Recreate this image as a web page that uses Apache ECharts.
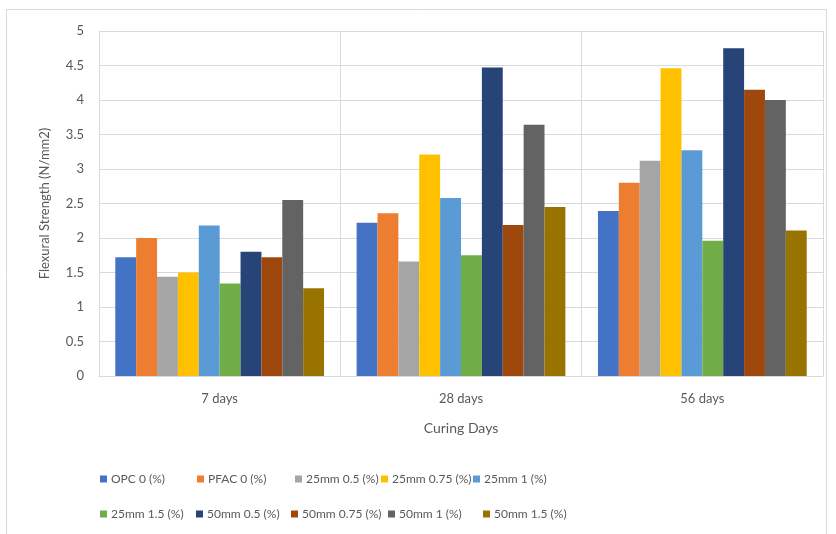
<!DOCTYPE html>
<html>
<head>
<meta charset="utf-8">
<script src="https://cdn.jsdelivr.net/npm/echarts@6/dist/echarts.min.js"></script>
<style>
  html, body { margin: 0; padding: 0; background: #fff; }
  #chart { width: 836px; height: 534px; }
</style>
</head>
<body>
<div id="chart"></div>
<script>
// Curing ages on the category axis
const categories = ['7 days', '28 days', '56 days'];

// Mix names, one series each
const seriesNames = [
  'OPC 0 (%)', 'PFAC 0 (%)', '25mm 0.5 (%)', '25mm 0.75 (%)', '25mm 1 (%)',
  '25mm 1.5 (%)', '50mm 0.5 (%)', '50mm 0.75 (%)', '50mm 1 (%)', '50mm 1.5 (%)'
];

// Flexural strength (N/mm2) at 7, 28 and 56 days
const opc0      = [1.72, 2.22, 2.39];
const pfac0     = [2.00, 2.36, 2.80];
const mm25_050  = [1.44, 1.66, 3.12];
const mm25_075  = [1.50, 3.21, 4.46];
const mm25_100  = [2.18, 2.58, 3.27];
const mm25_150  = [1.34, 1.75, 1.96];
const mm50_050  = [1.80, 4.47, 4.75];
const mm50_075  = [1.72, 2.19, 4.15];
const mm50_100  = [2.55, 3.64, 4.00];
const mm50_150  = [1.27, 2.45, 2.11];

const seriesValues = [opc0, pfac0, mm25_050, mm25_075, mm25_100,
                      mm25_150, mm50_050, mm50_075, mm50_100, mm50_150];

const colors = ['#4472C4', '#ED7D31', '#A5A5A5', '#FFC000', '#5B9BD5',
                '#70AD47', '#264478', '#9E480E', '#636363', '#997300'];

const FONT = 'Lato, "Open Sans", sans-serif';
const TEXT = '#595959';

// Legend slots: two rows of five
const legendLeft = [100, 197, 295, 381, 473, 100, 196, 291, 388, 483];
const legendTop  = [473, 473, 473, 473, 473, 508, 508, 508, 508, 508];

const legends = seriesNames.map((name, i) => ({
  data: [name],
  left: legendLeft[i],
  top: legendTop[i],
  itemWidth: 7,
  itemHeight: 7,
  itemGap: 4,
  padding: 0,
  icon: 'rect',
  textStyle: { color: TEXT, fontFamily: FONT, fontSize: 12, padding: [0, 0, 0, -1] }
}));

const chart = echarts.init(document.getElementById('chart'), null, { renderer: 'canvas' });

chart.setOption({
  animation: false,
  backgroundColor: '#ffffff',
  color: colors,
  graphic: [{
    type: 'rect',
    shape: { x: 6.5, y: 9.5, width: 820, height: 540 },
    style: { fill: 'none', stroke: '#d9d9d9', lineWidth: 1 },
    silent: true
  }],
  grid: { left: 99, right: 13, top: 31, bottom: 158, containLabel: false },
  legend: legends,
  xAxis: {
    type: 'category',
    data: categories,
    name: 'Curing Days',
    nameLocation: 'middle',
    nameGap: 45,
    nameTextStyle: { color: TEXT, fontFamily: FONT, fontSize: 14 },
    axisLine: { show: true, lineStyle: { color: '#d9d9d9' } },
    axisTick: { show: false },
    splitLine: { show: true, lineStyle: { color: '#d9d9d9' } },
    axisLabel: { color: TEXT, fontFamily: FONT, fontSize: 13, margin: 16 }
  },
  yAxis: {
    type: 'value',
    min: 0,
    max: 5,
    interval: 0.5,
    name: 'Flexural Strength (N/mm2)',
    nameLocation: 'middle',
    nameGap: 48,
    nameRotate: 90,
    nameTextStyle: { color: TEXT, fontFamily: FONT, fontSize: 13 },
    axisLine: { show: false },
    axisTick: { show: false },
    splitLine: { lineStyle: { color: '#d9d9d9' } },
    axisLabel: { color: TEXT, fontFamily: FONT, fontSize: 13, margin: 15 }
  },
  series: seriesNames.map((name, i) => ({
    name: name,
    type: 'bar',
    data: seriesValues[i],
    barGap: '0%',
    barCategoryGap: '13.5%',
    itemStyle: { color: colors[i] }
  }))
});
</script>
</body>
</html>
